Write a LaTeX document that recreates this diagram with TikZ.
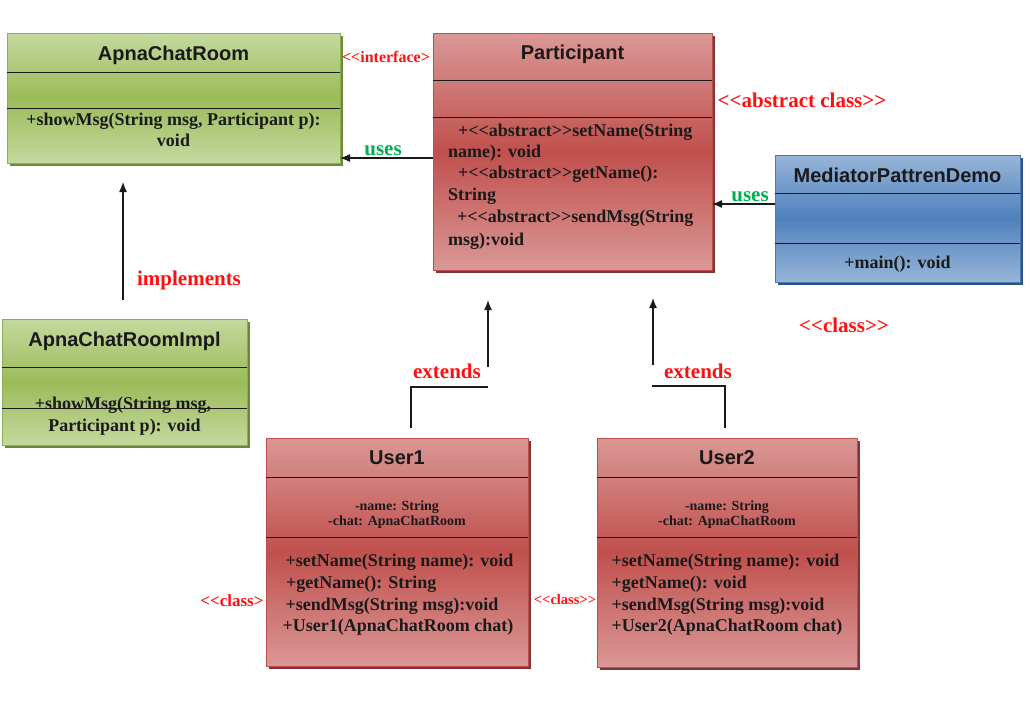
\documentclass[tikz,border=0pt]{standalone}
\usepackage{fontspec}
\setmainfont{Liberation Serif}[Ligatures=TeXOff]
\newfontfamily\titlefont{Liberation Sans}
\usetikzlibrary{shadows,arrows.meta}

\definecolor{gLight}{HTML}{C5D99F}
\definecolor{gDark}{HTML}{9BBB59}
\definecolor{gLine}{HTML}{8DAE52}
\definecolor{gShadow}{HTML}{6E8A35}
\definecolor{rLight}{HTML}{DA9896}
\definecolor{rDark}{HTML}{C0504D}
\definecolor{rLine}{HTML}{BC4E4B}
\definecolor{rShadow}{HTML}{843533}
\definecolor{bLight}{HTML}{98B5D8}
\definecolor{bDark}{HTML}{4F81BD}
\definecolor{bLine}{HTML}{4A7AB4}
\definecolor{bShadow}{HTML}{2F5283}
\definecolor{lblRed}{HTML}{FF1010}
\definecolor{lblGreen}{HTML}{00B050}
\definecolor{ink}{HTML}{1A1A1A}

\tikzset{
  x=1pt, y=1pt,
  classbox/.style={line width=1pt, anchor=north west, inner sep=0pt, outer sep=0pt},
  greenbox/.style={classbox, draw=gLine, top color=gLight, bottom color=gLight, middle color=gDark,
    drop shadow={fill=gShadow, opacity=1, shadow xshift=3pt, shadow yshift=-3pt}},
  redbox/.style={classbox, draw=rLine, top color=rLight, bottom color=rLight, middle color=rDark,
    drop shadow={fill=rShadow, opacity=1, shadow xshift=3pt, shadow yshift=-3pt}},
  bluebox/.style={classbox, draw=bLine, top color=bLight, bottom color=bLight, middle color=bDark,
    drop shadow={fill=bShadow, opacity=1, shadow xshift=3pt, shadow yshift=-3pt}},
  sepline/.style={line width=1pt, ink},
  ttl/.style={inner sep=0pt, anchor=base, text=ink, font=\titlefont\bfseries\fontsize{20}{24}\selectfont},
  body/.style={inner sep=0pt, anchor=base, font=\bfseries\fontsize{18}{22}\selectfont, text=ink},
  bodyl/.style={body, anchor=base west},
  attr/.style={inner sep=0pt, anchor=base, font=\bfseries\fontsize{14}{15}\selectfont, text=ink},
  lbl/.style={inner sep=0pt, anchor=base, text=lblRed, font=\bfseries\fontsize{21}{24}\selectfont},
  smalllbl/.style={lbl, font=\bfseries\fontsize{16}{18}\selectfont},
  useslbl/.style={lbl, text=lblGreen},
  conn/.style={line width=1.3pt, ink},
  arr/.style={conn, -{Latex[length=10pt,width=8pt]}},
}

\begin{document}
\begin{tikzpicture}
\useasboundingbox (0,0) rectangle (1036,-702);

% ---------- ApnaChatRoom (interface) ----------
\node[greenbox, minimum width=333pt, minimum height=130pt] (acr) at (7,-33) {};
\draw[sepline] (acr.west |- 0,-72) -- (acr.east |- 0,-72);
\draw[sepline] (acr.west |- 0,-108) -- (acr.east |- 0,-108);
\node[ttl] (acrT) at (173.5,-60) {ApnaChatRoom};
\node[body] (acrM1) at (173.5,-125) {+showMsg(String msg, Participant p):};
\node[body] (acrM2) at (173.5,-146) {void};
\node[smalllbl] (ifc) at (386,-62.5) {<<interface>};

% ---------- Participant (abstract class) ----------
\node[redbox, minimum width=279pt, minimum height=237pt] (part) at (433,-33) {};
\draw[sepline] (part.west |- 0,-80) -- (part.east |- 0,-80);
\draw[sepline] (part.west |- 0,-117) -- (part.east |- 0,-117);
\node[ttl] (partT) at (572.5,-59.5) {Participant};
\node[bodyl] (pm1) at (458,-136.5) {+<<abstract>>setName(String};
\node[bodyl] (pm2) at (448,-157) {name): void};
\node[bodyl] (pm3) at (458,-178) {+<<abstract>>getName():};
\node[bodyl] (pm4) at (448,-200.5) {String};
\node[bodyl] (pm5) at (457,-222) {+<<abstract>>sendMsg(String};
\node[bodyl] (pm6) at (448,-245) {msg):void};
\node[lbl] (abs) at (802,-107.5) {<<abstract class>>};

% ---------- MediatorPattrenDemo (class) ----------
\node[bluebox, minimum width=245pt, minimum height=127pt] (med) at (775,-155) {};
\draw[sepline] (med.west |- 0,-193) -- (med.east |- 0,-193);
\draw[sepline] (med.west |- 0,-243) -- (med.east |- 0,-243);
\node[ttl] (medT) at (897.5,-182) {MediatorPattrenDemo};
\node[body] (medM) at (897.5,-268) {+main(): void};
\node[lbl] (medC) at (844,-332) {<<class>>};

% ---------- ApnaChatRoomImpl ----------
\node[greenbox, minimum width=245pt, minimum height=126pt] (impl) at (2,-319) {};
\draw[sepline] (impl.west |- 0,-367) -- (impl.east |- 0,-367);
\node[ttl] (implT) at (124.5,-346) {ApnaChatRoomImpl};
\node[body] (implM1) at (123,-409.5) {+showMsg(String msg,};
\draw[sepline] (impl.west |- 0,-408) -- (impl.east |- 0,-408);
\node[body] (implM2) at (124.5,-431.5) {Participant p): void};

% ---------- User1 ----------
\node[redbox, minimum width=262pt, minimum height=228pt] (u1) at (266,-438) {};
\draw[sepline] (u1.west |- 0,-477) -- (u1.east |- 0,-477);
\draw[sepline] (u1.west |- 0,-537) -- (u1.east |- 0,-537);
\node[ttl] (u1T) at (397,-464.5) {User1};
\node[attr] (u1A1) at (397,-510) {-name: String};
\node[attr] (u1A2) at (397,-525.5) {-chat: ApnaChatRoom};
\node[bodyl] (u1M1) at (285.5,-566.5) {+setName(String name): void};
\node[bodyl] (u1M2) at (286,-588.5) {+getName(): String};
\node[bodyl] (u1M3) at (285.5,-610.5) {+sendMsg(String msg):void};
\node[bodyl] (u1M4) at (282.5,-631.5) {+User1(ApnaChatRoom chat)};
\node[lbl, font=\bfseries\fontsize{17}{19}\selectfont] (u1C) at (232,-606.5) {<<class>};

% ---------- User2 ----------
\node[redbox, minimum width=260pt, minimum height=229pt] (u2) at (597,-438) {};
\draw[sepline] (u2.west |- 0,-477) -- (u2.east |- 0,-477);
\draw[sepline] (u2.west |- 0,-537) -- (u2.east |- 0,-537);
\node[ttl] (u2T) at (727,-464.5) {User2};
\node[attr] (u2A1) at (727,-510) {-name: String};
\node[attr] (u2A2) at (727,-525.5) {-chat: ApnaChatRoom};
\node[bodyl] (u2M1) at (611.5,-566.5) {+setName(String name): void};
\node[bodyl] (u2M2) at (611.5,-588.5) {+getName(): void};
\node[bodyl] (u2M3) at (611.5,-610.5) {+sendMsg(String msg):void};
\node[bodyl] (u2M4) at (611.5,-631.5) {+User2(ApnaChatRoom chat)};
\node[lbl, font=\bfseries\fontsize{14.5}{16}\selectfont] (u2C) at (565,-604) {<<class>>};

% ---------- Connectors ----------
% uses: Participant -> ApnaChatRoom
\draw[arr] (part.west |- 0,-158) -- (acr.east |- 0,-158);
\node[useslbl] (uses1) at (383,-155) {uses};
% uses: MediatorPattrenDemo -> Participant
\draw[arr] (med.west |- 0,-204) -- (part.east |- 0,-204);
\node[useslbl] (uses2) at (750,-201.5) {uses};
% implements: ApnaChatRoomImpl -> ApnaChatRoom
\draw[arr, shorten <=19pt, shorten >=19pt] (impl.north -| 123,0) -- (acr.south -| 123,0);
\node[lbl] (impl1) at (189,-285) {implements};
% extends: User1 -> Participant
\coordinate (u1bend) at (488,-387);
\coordinate (u1head) at (488,-367);
\draw[conn, shorten <=10pt] (u1.north -| 411,0) |- (u1bend);
\draw[arr, shorten >=30pt] (u1head) -- (part.south -| u1head);
\node[lbl] (ext1) at (447,-378) {extends};
% extends: User2 -> Participant
\coordinate (u2bend) at (652,-386);
\coordinate (u2head) at (653,-365);
\draw[conn, shorten <=10pt] (u2.north -| 725,0) |- (u2bend);
\draw[arr, shorten >=28pt] (u2head) -- (part.south -| u2head);
\node[lbl] (ext2) at (698,-378) {extends};
\end{tikzpicture}
\end{document}
